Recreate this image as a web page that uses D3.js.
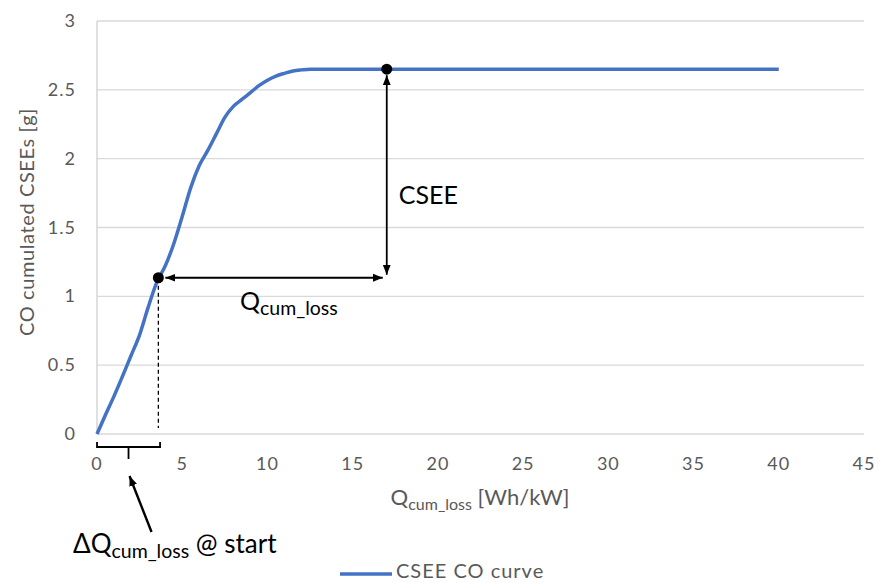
<!DOCTYPE html>
<html>
<head>
<meta charset="utf-8">
<script src="https://cdn.jsdelivr.net/npm/d3@7"></script>
<style>
  body { margin: 0; background: #fff; }
  svg { display: block; font-family: Lato, "Open Sans", sans-serif; }
</style>
</head>
<body>
<div id="chart"></div>
<script>
// cumulated CO emissions vs cumulated heat loss
const qLoss = [0, 0.5, 1, 1.5, 2, 2.5, 3, 3.5, 4, 4.5, 5, 5.5, 6, 6.5, 7, 7.5, 8, 8.5, 9, 9.5, 10, 10.5, 11, 11.5, 12, 12.5, 15, 20, 25, 30, 35, 40];
const coCum = [0, 0.14, 0.275, 0.42, 0.57, 0.72, 0.92, 1.1, 1.22, 1.38, 1.58, 1.79, 1.95, 2.06, 2.18, 2.3, 2.38, 2.43, 2.48, 2.53, 2.57, 2.6, 2.62, 2.637, 2.645, 2.65, 2.65, 2.65, 2.65, 2.65, 2.65, 2.65];

const xTicks = [0, 5, 10, 15, 20, 25, 30, 35, 40, 45];
const yTicks = [0, 0.5, 1, 1.5, 2, 2.5, 3];

// annotation anchors: start of plateau search and the plateau point
const startPoint = [3.6, 1.135];
const plateauPoint = [17, 2.65];
const bracketEnd = 3.7;

const width = 878, height = 583;
const margin = { top: 21, right: 14, bottom: 149, left: 97 };

const x = d3.scaleLinear().domain([0, 45]).range([margin.left, width - margin.right]);
const y = d3.scaleLinear().domain([0, 3]).range([height - margin.bottom, margin.top]);

const svg = d3.select("#chart").append("svg")
    .attr("width", width)
    .attr("height", height);

const defs = svg.append("defs");
defs.append("marker")
    .attr("id", "head")
    .attr("viewBox", "0 0 10 10")
    .attr("refX", 10).attr("refY", 5)
    .attr("markerWidth", 10).attr("markerHeight", 10)
    .attr("markerUnits", "userSpaceOnUse")
    .attr("orient", "auto-start-reverse")
    .append("path")
    .attr("d", "M0,1 L10,5 L0,9 Z")
    .attr("fill", "#000");

// gridlines
svg.append("g")
    .selectAll("line")
    .data(yTicks)
    .join("line")
    .attr("x1", x(0)).attr("x2", x(45))
    .attr("y1", d => y(d)).attr("y2", d => y(d))
    .attr("stroke", "#d9d9d9")
    .attr("stroke-width", 1.3);

svg.append("line")
    .attr("x1", x(0)).attr("x2", x(0))
    .attr("y1", y(0)).attr("y2", y(3))
    .attr("stroke", "#d0d0d0")
    .attr("stroke-width", 1.3);

// tick labels
svg.append("g")
    .selectAll("text")
    .data(yTicks)
    .join("text")
    .attr("x", x(0) - 21)
    .attr("y", d => y(d) + 6)
    .attr("text-anchor", "end")
    .attr("fill", "#595959")
    .attr("font-size", 18)
    .attr("letter-spacing", 1)
    .text(d => d);

svg.append("g")
    .selectAll("text")
    .data(xTicks)
    .join("text")
    .attr("x", d => x(d))
    .attr("y", y(0) + 36)
    .attr("text-anchor", "middle")
    .attr("fill", "#595959")
    .attr("font-size", 18)
    .attr("letter-spacing", 1)
    .text(d => d);

// axis titles
svg.append("text")
    .attr("transform", "translate(34,222) rotate(-90)")
    .attr("text-anchor", "middle")
    .attr("fill", "#595959")
    .attr("font-size", 20)
    .attr("letter-spacing", 0.6)
    .text("CO cumulated CSEEs [g]");

const xTitle = svg.append("text")
    .attr("x", 480)
    .attr("y", 505)
    .attr("text-anchor", "middle")
    .attr("fill", "#595959")
    .attr("font-size", 22);
xTitle.append("tspan").text("Q");
xTitle.append("tspan").attr("font-size", 16).attr("dy", 5).text("cum_loss");
xTitle.append("tspan").attr("dy", -5).text(" [Wh/kW]");

// curve
const line = d3.line()
    .x((d, i) => x(qLoss[i]))
    .y(d => y(d))
    .curve(d3.curveMonotoneX);

svg.append("path")
    .datum(coCum)
    .attr("fill", "none")
    .attr("stroke", "#4472c4")
    .attr("stroke-width", 3.5)
    .attr("stroke-linejoin", "round")
    .attr("d", line);

// annotations
const ann = svg.append("g").attr("stroke", "#000").attr("fill", "none");

ann.append("line")
    .attr("x1", x(startPoint[0])).attr("x2", x(startPoint[0]))
    .attr("y1", y(startPoint[1]) + 8).attr("y2", y(0) - 6)
    .attr("stroke-width", 1.3)
    .attr("stroke-dasharray", "4,3");

ann.append("line")
    .attr("x1", x(startPoint[0]) + 7).attr("x2", x(plateauPoint[0]) - 4)
    .attr("y1", y(startPoint[1])).attr("y2", y(startPoint[1]))
    .attr("stroke-width", 1.8)
    .attr("marker-start", "url(#head)")
    .attr("marker-end", "url(#head)");

ann.append("line")
    .attr("x1", x(plateauPoint[0])).attr("x2", x(plateauPoint[0]))
    .attr("y1", y(plateauPoint[1]) + 6).attr("y2", y(startPoint[1]) - 3)
    .attr("stroke-width", 1.8)
    .attr("marker-start", "url(#head)")
    .attr("marker-end", "url(#head)");

// bracket below the axis
const by = y(0) + 13;
ann.append("path")
    .attr("d", `M${x(0)},${by - 5}V${by}H${x(bracketEnd)}V${by - 5}M${x(bracketEnd / 2)},${by}V${by + 12}`)
    .attr("stroke-width", 1.8);

ann.append("line")
    .attr("x1", x(bracketEnd / 2) + 23).attr("x2", x(bracketEnd / 2) + 1)
    .attr("y1", y(0) + 98).attr("y2", y(0) + 42)
    .attr("stroke-width", 2.4)
    .attr("marker-end", "url(#head)");

svg.append("g")
    .selectAll("circle")
    .data([startPoint, plateauPoint])
    .join("circle")
    .attr("cx", d => x(d[0]))
    .attr("cy", d => y(d[1]))
    .attr("r", 5.5)
    .attr("fill", "#000");

// annotation labels
svg.append("text")
    .attr("x", x(plateauPoint[0]) + 12)
    .attr("y", 204)
    .attr("font-size", 25)
    .attr("fill", "#000")
    .text("CSEE");

const qLabel = svg.append("text")
    .attr("x", 240)
    .attr("y", 310)
    .attr("font-size", 25)
    .attr("fill", "#000");
qLabel.append("tspan").text("Q");
qLabel.append("tspan").attr("font-size", 19.5).attr("dy", 5).text("cum_loss");

const startLabel = svg.append("text")
    .attr("x", 73)
    .attr("y", 553)
    .attr("font-size", 26)
    .attr("fill", "#000");
startLabel.append("tspan").text("ΔQ");
startLabel.append("tspan").attr("font-size", 19.5).attr("dy", 5).text("cum_loss");
startLabel.append("tspan").attr("dy", -5).text(" @ start");

// legend
const legend = svg.append("g").attr("transform", "translate(340,574)");
legend.append("line")
    .attr("x1", 0).attr("x2", 52)
    .attr("stroke", "#4472c4")
    .attr("stroke-width", 3.5);
legend.append("text")
    .attr("x", 56)
    .attr("y", 4)
    .attr("font-size", 20)
    .attr("letter-spacing", 1)
    .attr("fill", "#595959")
    .text("CSEE CO curve");
</script>
</body>
</html>
